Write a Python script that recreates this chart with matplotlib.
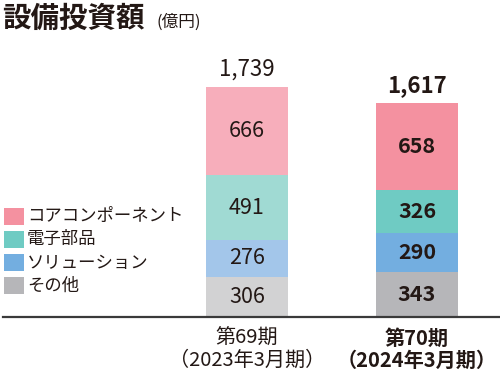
import matplotlib
matplotlib.use("Agg")
import matplotlib.pyplot as plt
from matplotlib.patches import Rectangle

plt.rcParams['font.family'] = ['Noto Sans CJK JP', 'DejaVu Sans']

# data (億円)
periods = ["第69期\n（2023年3月期）", "第70期\n（2024年3月期）"]
segments = ["その他", "ソリューション", "電子部品", "コアコンポーネント"]
other = [306, 343]
solution = [276, 290]
electronic = [491, 326]
core = [666, 658]
totals = [1739, 1617]

# colours: lighter shade for previous year, stronger for current year
colors_prev = ["#d2d2d3", "#a3c6ea", "#a0dad3", "#f7aebb"]
colors_cur = ["#b6b6b9", "#73aee0", "#6fcbc3", "#f491a0"]
legend_colors = colors_cur

fig = plt.figure(figsize=(5, 3.75), dpi=100)
ax = fig.add_axes([3 / 500, 1 - 317 / 375, 497 / 500, (317 - 60) / 375])

scale = 0.1323  # px per unit
ax.set_xlim(-244 / 170, 1 + 83 / 170)
ax.set_ylim(0, (317 - 60) / scale)

series = [other, solution, electronic, core]
width = 82 / 170
for i in range(len(periods)):
    bottom = 0
    cols = colors_prev if i == 0 else colors_cur
    wt = "normal" if i == 0 else "bold"
    for s, vals in enumerate(series):
        v = vals[i]
        ax.bar(i, v, width=width, bottom=bottom, color=cols[s], linewidth=0)
        ax.text(i, bottom + v / 2, f"{v:,}", ha="center", va="center",
                fontsize=15.5, color="#231815", fontweight=wt)
        bottom += v
    ax.text(i, totals[i] + 45, f"{totals[i]:,}", ha="center", va="bottom",
            fontsize=16, color="#231815", fontweight=wt)
    ax.text(i, -80, periods[i], ha="center", va="top", fontsize=14.5,
            color="#231815", fontweight=wt, linespacing=1.05)

for sp in ["top", "right", "left"]:
    ax.spines[sp].set_visible(False)
ax.spines["bottom"].set_color("#3a3a3a")
ax.spines["bottom"].set_linewidth(1.6)
ax.set_xticks([])
ax.set_yticks([])
ax.patch.set_alpha(0)

# title
fig.text(2 / 500, 1 - 19 / 375, "設備投資額", fontsize=20.5, fontweight="bold",
         color="#231815", va="center", ha="left")
fig.text(157 / 500, 1 - 22 / 375, "(億円)", fontsize=12, color="#231815",
         va="center", ha="left")

# legend
labels_top = list(reversed(segments))
cols_top = list(reversed(legend_colors))
for k, (lab, c) in enumerate(zip(labels_top, cols_top)):
    yc = 216 + k * 23.3
    fig.patches.append(Rectangle((4 / 500, 1 - (yc + 8.5) / 375), 20 / 500, 17 / 375,
                                 transform=fig.transFigure, color=c, linewidth=0))
    fig.text(27 / 500, 1 - yc / 375, lab, fontsize=12.5, color="#231815",
             va="center", ha="left")

fig.savefig("out.png", dpi=100)
